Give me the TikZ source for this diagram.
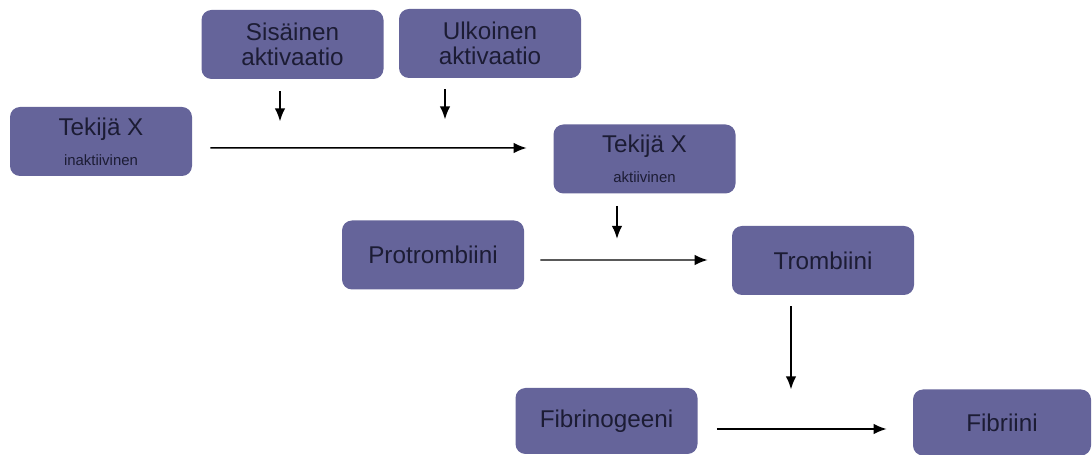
\documentclass[tikz,border=0pt]{standalone}
\usepackage{fontspec}
\setmainfont{Liberation Sans}
\definecolor{boxpurple}{HTML}{65649A}
\definecolor{textnavy}{HTML}{1C1C34}
\usetikzlibrary{arrows.meta, positioning, calc}
\tikzset{
  tbox/.style = {rectangle, rounded corners = 0.2cm, fill = boxpurple, text = textnavy, minimum width = 3.64cm, minimum height = 1.38cm, inner sep = 0pt, align = center, font = \fontsize{13.8}{14}\selectfont},
  arr/.style = {-{Latex[length=2.6mm, width=2.1mm]}, line width = 0.85pt}
}
\newcommand{\subtxt}[1]{{\fontsize{8.5}{9}\selectfont #1}}

\begin{document}
\begin{tikzpicture}
\useasboundingbox (0,0) rectangle (21.84,-9.1);
\node[tbox] (txi) at (2.02,-2.83) {Tekijä X\\[3pt]\subtxt{inaktiivinen}};
\node[tbox] (sis) at (5.85,-0.89) {Sisäinen\\aktivaatio};
\node[tbox] (ulk) at (9.80,-0.87) {Ulkoinen\\aktivaatio};
\node[tbox] (txa) at (12.89,-3.18) {Tekijä X\\[3pt]\subtxt{aktiivinen}};
\node[tbox] (prot) at (8.66,-5.10) {Protrombiini};
\node[tbox] (tromb) at (16.46,-5.21) {Trombiini};
\node[tbox, minimum height = 1.32cm] (fibg) at (12.13,-8.42) {Fibrinogeeni};
\node[tbox, minimum height = 1.32cm, minimum width = 3.56cm] (fibr) at (20.04,-8.45) {Fibriini};
% free ends of the short arrows
\coordinate (sisend) at ([xshift=-0.25cm, yshift=-0.84cm]sis.south);
\coordinate (ulkend) at ([xshift=-0.9cm, yshift=-0.82cm]ulk.south);
\coordinate (txaend) at ([xshift=-0.55cm, yshift=-0.90cm]txa.south);
\coordinate (trombend) at ([xshift=-0.64cm, yshift=-1.88cm]tromb.south);
\draw[arr] ([xshift=0.36cm, yshift=-0.13cm]txi.east) -- ([xshift=-0.53cm, yshift=0.22cm]txa.west);
\draw[arr] ([xshift=-0.25cm, yshift=-0.24cm]sis.south) -- (sisend);
\draw[arr] ([xshift=-0.9cm, yshift=-0.22cm]ulk.south) -- (ulkend);
\draw[arr] ([xshift=-0.55cm, yshift=-0.24cm]txa.south) -- (txaend);
\draw[arr] ([xshift=0.32cm, yshift=-0.10cm]prot.east) -- ([xshift=-0.48cm, yshift=0.01cm]tromb.west);
\draw[arr] ([xshift=-0.64cm, yshift=-0.22cm]tromb.south) -- (trombend);
\draw[arr] ([xshift=0.38cm, yshift=-0.16cm]fibg.east) -- ([xshift=-0.52cm, yshift=-0.13cm]fibr.west);
\end{tikzpicture}
\end{document}
